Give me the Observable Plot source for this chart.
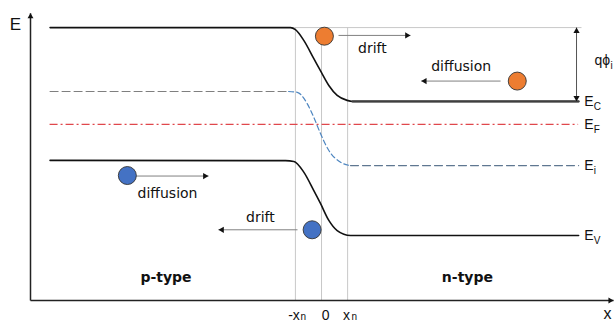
<!DOCTYPE html>
<html><head><meta charset="utf-8">
<script src="https://cdn.jsdelivr.net/npm/d3@7"></script>
<script src="https://cdn.jsdelivr.net/npm/@observablehq/plot@0.6"></script>
<style>html,body{margin:0;padding:0;background:#fff;}</style>
</head><body><div id="chart"></div>
<script>
// Position in units of x_n (junction at 0); energy in arbitrary units
const junctionX = [-1, 0, 1];
const junctionTop = 10.46;

const ecX = [-10.40, -1.19, -1.00, -0.68, -0.30, -0.01, 0.28, 0.60, 0.98, 1.19, 9.85];
const ecY = [10.46, 10.46, 10.38, 9.97, 9.28, 8.75, 8.24, 7.86, 7.67, 7.63, 7.63];

const eiX = [-10.40, -1.26, -0.93, -0.55, -0.30, -0.04, 0.28, 0.73, 1.11, 9.85];
const eiY = [8.01, 8.01, 7.98, 7.55, 7.03, 6.40, 5.75, 5.30, 5.17, 5.17];

const evX = [-10.40, -1.38, -1.06, -0.68, -0.30, -0.04, 0.28, 0.60, 1.11, 9.85];
const evY = [5.37, 5.36, 5.33, 4.92, 4.22, 3.72, 3.07, 2.68, 2.49, 2.49];

const efX = [-10.40, 9.85];
const efLevel = 6.75;

const refLineX = [-1.19, 9.98];
const qphiX = 9.77;

const bandNames = ["C", "F", "i", "V"];
const bandLevels = [7.63, 6.75, 5.17, 2.49];

const electronX = [0.11, 7.50];
const electronY = [10.13, 8.41];
const holeX = [-7.44, -0.36];
const holeY = [4.79, 2.71];

const arrowX1 = [0.65, 6.86, -7.13, -0.92];
const arrowX2 = [3.41, 3.82, -4.33, -3.95];
const arrowY = [10.16, 8.41, 4.77, 2.71];
const arrowText = ["drift", "diffusion", "diffusion", "drift"];
const arrowTextX = [1.95, 5.35, -5.90, -2.34];
const arrowTextY = [9.66, 8.97, 4.10, 3.18];

const regionNames = ["p-type", "n-type"];
const regionX = [-5.96, 5.59];
const regionY = 0.90;

const xMin = -11.15, xMax = 11.19, yMax = 11.01;

const pts = (xs, ys) => xs.map((x, i) => ({x, y: ys[i]}));

function heads(data, rot, r = 2.3) {
  const off = 2 * Math.sqrt(Math.PI * r * r / (3 * Math.sqrt(3)));
  const a = rot * Math.PI / 180;
  return Plot.dot(data, {x: "x", y: "y", symbol: "triangle", r, rotate: rot,
    fill: "#111", stroke: "none", dx: -off * Math.sin(a), dy: off * Math.cos(a)});
}

const lab = "Liberation Sans, Arial, sans-serif";
const ann = "DejaVu Sans, Verdana, sans-serif";

const arrows = arrowX1.map((x1, i) => ({x1, x2: arrowX2[i], y: arrowY[i]}));
const rightHeads = arrows.filter(d => d.x2 > d.x1).map(d => ({x: d.x2, y: d.y}));
const leftHeads = arrows.filter(d => d.x2 < d.x1).map(d => ({x: d.x2, y: d.y}));

const labelX = 10.07;
const tickLabelY = -0.56;

const chart = Plot.plot({
  width: 614, height: 322,
  marginLeft: 30, marginRight: 3, marginTop: 13, marginBottom: 22,
  x: {domain: [-11.15, 11.11], axis: null},
  y: {domain: [0, 11], axis: null},
  style: {background: "#fff", overflow: "visible"},
  marks: [
    Plot.ruleX(junctionX, {x: d => d, y1: 0, y2: junctionTop, stroke: "#c8c8c8", strokeWidth: 1}),
    Plot.ruleY([junctionTop], {y: d => d, x1: refLineX[0], x2: refLineX[1], stroke: "#c8c8c8", strokeWidth: 1}),
    Plot.ruleY([efLevel], {y: d => d, x1: efX[0], x2: efX[1], stroke: "#e0474c", strokeWidth: 1.2, strokeDasharray: "8,3,2,3"}),
    Plot.line(pts(eiX, eiY).slice(0, 2), {x: "x", y: "y", stroke: "#7f7f7f", strokeWidth: 1.2, strokeDasharray: "8,4"}),
    Plot.line(pts(eiX, eiY).slice(1, 9), {x: "x", y: "y", curve: "monotone-x", stroke: "#4e86c0", strokeWidth: 1.2, strokeDasharray: "5,3"}),
    Plot.line(pts(eiX, eiY).slice(8), {x: "x", y: "y", stroke: "#5f7791", strokeWidth: 1.2, strokeDasharray: "8,4"}),
    Plot.line(pts(ecX, ecY), {x: "x", y: "y", curve: "monotone-x", stroke: "#111", strokeWidth: 1.6}),
    Plot.line(pts(ecX, ecY).slice(-2), {x: "x", y: "y", stroke: "#3f3f3f", strokeWidth: 2.2}),
    Plot.line(pts(evX, evY), {x: "x", y: "y", curve: "monotone-x", stroke: "#111", strokeWidth: 1.6}),
    Plot.link([0], {x1: qphiX, x2: qphiX, y1: junctionTop, y2: bandLevels[0], stroke: "#555", strokeWidth: 1}),
    heads([{x: qphiX, y: junctionTop}], 0),
    heads([{x: qphiX, y: bandLevels[0]}], 180),
    Plot.link([0], {x1: xMin, x2: xMin, y1: 0, y2: yMax, stroke: "#222", strokeWidth: 1.5}),
    Plot.link([0], {x1: xMin, x2: xMax, y1: 0, y2: 0, stroke: "#222", strokeWidth: 1.5}),
    heads([{x: xMin, y: yMax}], 0, 2.2),
    heads([{x: xMax, y: 0}], 90, 2.2),
    Plot.link(arrows, {x1: "x1", x2: "x2", y1: "y", y2: "y", stroke: "#808080", strokeWidth: 1}),
    heads(rightHeads, 90),
    heads(leftHeads, -90),
    Plot.dot(pts(electronX, electronY), {x: "x", y: "y", r: 9, fill: "#ED7D31", stroke: "#333", strokeWidth: 0.9}),
    Plot.dot(pts(holeX, holeY), {x: "x", y: "y", r: 9, fill: "#4472C4", stroke: "#333", strokeWidth: 0.9}),
    Plot.text(arrowText, {x: (d, i) => arrowTextX[i], y: (d, i) => arrowTextY[i], text: d => d,
      fontFamily: ann, fontSize: 14, fill: "#111"}),
    Plot.text(regionNames, {x: (d, i) => regionX[i], y: regionY, text: d => d,
      fontFamily: ann, fontSize: 14, fontWeight: "bold", fill: "#111"}),
    Plot.text(bandNames, {x: labelX, y: (d, i) => bandLevels[i], text: () => "E", textAnchor: "start",
      fontFamily: lab, fontSize: 14, fill: "#111"}),
    Plot.text(bandNames, {x: labelX, y: (d, i) => bandLevels[i], text: d => d, textAnchor: "start", dx: 9.5, dy: 5,
      fontFamily: lab, fontSize: 10, fill: "#111"}),
    Plot.text(["qϕ"], {x: 10.46, y: 9.20, text: d => d, textAnchor: "start", fontFamily: lab, fontSize: 14, fill: "#111"}),
    Plot.text(["i"], {x: 10.46, y: 9.20, text: d => d, textAnchor: "start", dx: 16, dy: 5, fontFamily: lab, fontSize: 10, fill: "#111"}),
    Plot.text(["E"], {x: xMin, y: 10.56, text: d => d, dx: -15, fontFamily: lab, fontSize: 17, fill: "#111"}),
    Plot.text(["x"], {x: xMax, y: -0.52, text: d => d, dx: -6, fontFamily: lab, fontSize: 16, fill: "#111"}),
    Plot.text(["-x"], {x: junctionX[0], y: tickLabelY, text: d => d, textAnchor: "end", dx: 4.4, fontFamily: lab, fontSize: 14, fill: "#111"}),
    Plot.text(["n"], {x: junctionX[0], y: tickLabelY, text: d => d, textAnchor: "start", dx: 5, dy: 2, fontFamily: lab, fontSize: 10, fill: "#111"}),
    Plot.text(["0"], {x: junctionX[1], y: tickLabelY, text: d => d, dx: 4, fontFamily: lab, fontSize: 14, fill: "#111"}),
    Plot.text(["x"], {x: junctionX[2], y: tickLabelY, text: d => d, textAnchor: "end", dx: 2.5, fontFamily: lab, fontSize: 14, fill: "#111"}),
    Plot.text(["n"], {x: junctionX[2], y: tickLabelY, text: d => d, textAnchor: "start", dx: 4, dy: 2, fontFamily: lab, fontSize: 10, fill: "#111"})
  ]
});
document.getElementById("chart").appendChild(chart);
</script>
</body></html>
